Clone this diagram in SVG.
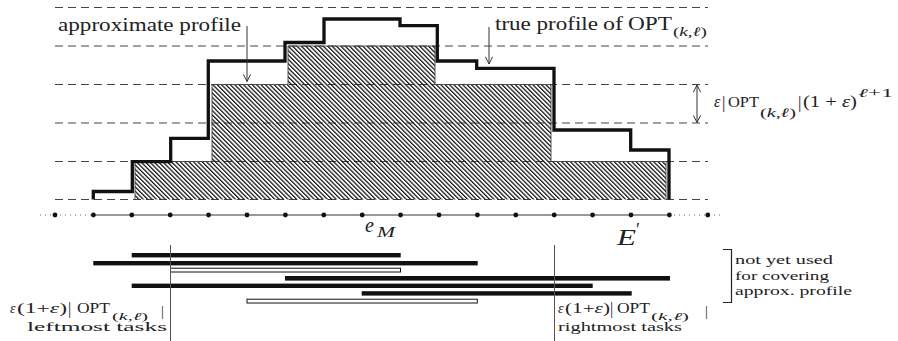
<svg xmlns="http://www.w3.org/2000/svg" width="898" height="341" viewBox="0 0 898 341" font-family="Liberation Serif, Times New Roman, serif">
<style>
text{fill:#222}
.it{font-style:italic}
.dash{stroke:#444;stroke-width:1;stroke-dasharray:8,5;fill:none}
.prof{fill:none;stroke:#111;stroke-width:3.3;stroke-linejoin:miter}
.appr{fill:url(#hatch);stroke:none}
.apprline{fill:none;stroke:#444;stroke-width:0.9}
.arr{stroke:#333;stroke-width:1;fill:none}
.bar{fill:#111}
.hbar{fill:#fff;stroke:#111;stroke-width:1}
.vl{stroke:#555;stroke-width:1}
</style>
<defs>
<pattern id="hatch" patternUnits="userSpaceOnUse" width="3.1" height="10" patternTransform="rotate(-45)">
<line x1="0.6" y1="-1" x2="0.6" y2="11" stroke="#111" stroke-width="1.3"/>
</pattern>
<marker id="ah" viewBox="0 0 10 10" refX="9" refY="5" markerWidth="9" markerHeight="9" orient="auto-start-reverse" markerUnits="userSpaceOnUse">
<path d="M1,1 L9,5 L1,9" fill="none" stroke="#333" stroke-width="1.1"/>
</marker>
</defs>

<g id="levels">
<line class="dash" x1="55" y1="7.5" x2="708" y2="7.5"/>
<line class="dash" x1="55" y1="46" x2="708" y2="46"/>
<line class="dash" x1="55" y1="84.5" x2="708" y2="84.5"/>
<line class="dash" x1="55" y1="123" x2="708" y2="123"/>
<line class="dash" x1="55" y1="161.5" x2="708" y2="161.5"/>
<line class="dash" x1="55" y1="199.5" x2="708" y2="199.5"/>
</g>

<g id="approx-profile">
<path class="appr" d="M135,199.5 V161.5 H212 V84.5 H288 V46 H435 V84.5 H551 V161.5 H666 V199.5 Z"/>
<path class="apprline" d="M135,199.5 V161.5 H212 V84.5 H288 V46 H435 V84.5 H551 V161.5 H666 V199.5"/>
</g>

<g id="true-profile">
<path class="prof" d="M93.3,199.5 V191.5 H132.3 V161.7 H170.7 V138.3 H208.3 V61 H285 V42.5 H324 V19 H400 V25.7 H437.3 V61 H476.7 V68.3 H554 V130 H630.7 V150 H669 V199.5"/>
</g>

<g id="axis">
<line x1="40" y1="215" x2="93" y2="215" stroke="#666" stroke-width="1.2" stroke-dasharray="1,4"/>
<line x1="669" y1="215" x2="724" y2="215" stroke="#666" stroke-width="1.2" stroke-dasharray="1,4"/>
<line x1="93.4" y1="215" x2="669" y2="215" stroke="#777" stroke-width="1.5"/>
<g fill="#111">
<circle cx="55" cy="215" r="2.4"/><circle cx="93.4" cy="215" r="2.4"/><circle cx="131.8" cy="215" r="2.4"/><circle cx="170.2" cy="215" r="2.4"/><circle cx="208.6" cy="215" r="2.4"/><circle cx="247" cy="215" r="2.4"/><circle cx="285.4" cy="215" r="2.4"/><circle cx="323.8" cy="215" r="2.4"/><circle cx="362.2" cy="215" r="2.4"/><circle cx="400.6" cy="215" r="2.4"/><circle cx="439" cy="215" r="2.4"/><circle cx="477.4" cy="215" r="2.4"/><circle cx="515.8" cy="215" r="2.4"/><circle cx="554.2" cy="215" r="2.4"/><circle cx="592.6" cy="215" r="2.4"/><circle cx="631" cy="215" r="2.4"/><circle cx="669.4" cy="215" r="2.4"/><circle cx="707.8" cy="215" r="2.4"/>
</g>
<text class="it" x="365" y="232" font-size="20">e</text>
<text class="it" x="377" y="237" font-size="14" textLength="18" lengthAdjust="spacingAndGlyphs">M</text>
<text class="it" x="617" y="245" font-size="23" textLength="19" lengthAdjust="spacingAndGlyphs">E</text>
<text x="636" y="236" font-size="18">′</text>
</g>

<g id="connectors">
<line class="arr" x1="247" y1="26" x2="247" y2="81.5" marker-end="url(#ah)"/>
<line class="arr" x1="489" y1="27" x2="489" y2="64" marker-end="url(#ah)"/>
<line class="arr" x1="697" y1="85" x2="697" y2="122.5" marker-start="url(#ah)" marker-end="url(#ah)"/>
</g>

<g id="label-approx">
<text x="58" y="31" font-size="19" textLength="183" lengthAdjust="spacingAndGlyphs">approximate profile</text>
</g>

<g id="label-true">
<text x="495" y="30" font-size="19" textLength="103" lengthAdjust="spacingAndGlyphs">true profile</text>
<text x="603" y="30" font-size="19" textLength="20" lengthAdjust="spacingAndGlyphs">of</text>
<text x="628" y="30" font-size="19" textLength="44" lengthAdjust="spacingAndGlyphs">OPT</text>
<text x="673" y="36" font-size="13" textLength="34" lengthAdjust="spacingAndGlyphs">(<tspan class="it">k</tspan>,<tspan class="it">ℓ</tspan>)</text>
</g>

<g id="label-eps">
<text class="it" x="714" y="107" font-size="16">ε</text>
<text x="722" y="108" font-size="17">|</text>
<text x="728" y="107" font-size="15" textLength="31" lengthAdjust="spacingAndGlyphs">OPT</text>
<text x="760" y="117" font-size="13" textLength="36" lengthAdjust="spacingAndGlyphs">(<tspan class="it">k</tspan>,<tspan class="it">ℓ</tspan>)</text>
<text x="798" y="108" font-size="17">|</text>
<text x="803" y="107" font-size="17" textLength="54" lengthAdjust="spacingAndGlyphs">(1 + <tspan class="it">ε</tspan>)</text>
<text x="858" y="97" font-size="12" textLength="35" lengthAdjust="spacingAndGlyphs"><tspan class="it">ℓ</tspan>+1</text>
</g>

<g id="tasks">
<rect class="bar" x="131.7" y="253" width="269" height="4.4"/>
<rect class="bar" x="93.3" y="261" width="384.4" height="4.4"/>
<rect class="hbar" x="170.5" y="268.2" width="230" height="3.8"/>
<rect class="bar" x="285" y="276" width="385" height="4.6"/>
<rect class="bar" x="131.7" y="283.6" width="461" height="4.4"/>
<rect class="bar" x="361.7" y="291.2" width="270" height="4.4"/>
<rect class="hbar" x="247" y="299.2" width="230.3" height="3.8"/>
</g>

<g id="cut-left">
<line class="vl" x1="170.5" y1="245" x2="170.5" y2="341"/>
<text class="it" x="10" y="313" font-size="14">ε</text>
<text x="17" y="313" font-size="14" textLength="50" lengthAdjust="spacingAndGlyphs">(1+<tspan class="it">ε</tspan>)</text>
<text x="68" y="314" font-size="16">|</text>
<text x="77" y="313" font-size="14" textLength="33" lengthAdjust="spacingAndGlyphs">OPT</text>
<text x="112" y="319.5" font-size="10.5" textLength="36" lengthAdjust="spacingAndGlyphs">(<tspan class="it">k</tspan>,<tspan class="it">ℓ</tspan>)</text>
<text x="161" y="316" font-size="14">|</text>
<text x="27" y="331" font-size="13" textLength="140" lengthAdjust="spacingAndGlyphs">leftmost tasks</text>
</g>

<g id="cut-right">
<line class="vl" x1="554.5" y1="245" x2="554.5" y2="341"/>
<text class="it" x="558" y="313" font-size="14">ε</text>
<text x="565" y="313" font-size="14" textLength="45" lengthAdjust="spacingAndGlyphs">(1+<tspan class="it">ε</tspan>)</text>
<text x="610" y="314" font-size="16">|</text>
<text x="617" y="313" font-size="14" textLength="33" lengthAdjust="spacingAndGlyphs">OPT</text>
<text x="651" y="319.5" font-size="10.5" textLength="38" lengthAdjust="spacingAndGlyphs">(<tspan class="it">k</tspan>,<tspan class="it">ℓ</tspan>)</text>
<text x="705" y="316" font-size="14">|</text>
<text x="558" y="331" font-size="13" textLength="124" lengthAdjust="spacingAndGlyphs">rightmost tasks</text>
</g>

<g id="note">
<path d="M723,249.5 H731.5 V302.5 H723" fill="none" stroke="#222" stroke-width="1.2"/>
<text x="735" y="264" font-size="13" textLength="98" lengthAdjust="spacingAndGlyphs">not yet used</text>
<text x="735" y="280" font-size="13" textLength="94" lengthAdjust="spacingAndGlyphs">for covering</text>
<text x="735" y="295" font-size="13" textLength="117" lengthAdjust="spacingAndGlyphs">approx. profile</text>
</g>
</svg>
